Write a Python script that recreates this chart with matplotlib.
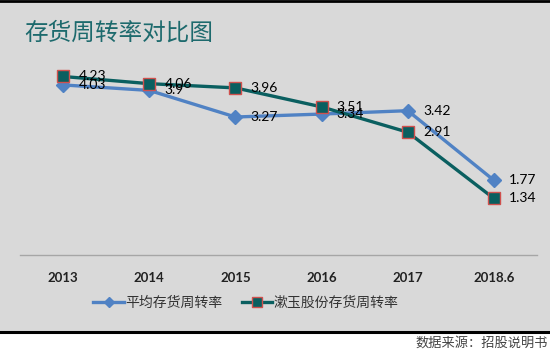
import matplotlib
matplotlib.use("Agg")
import matplotlib.pyplot as plt
from matplotlib.patches import Rectangle
from matplotlib.lines import Line2D

plt.rcParams['font.family'] = ['Noto Sans CJK SC', 'DejaVu Sans']

categories = ["2013", "2014", "2015", "2016", "2017", "2018.6"]
avg_turnover = [4.03, 3.9, 3.27, 3.34, 3.42, 1.77]
huiyu_turnover = [4.23, 4.06, 3.96, 3.51, 2.91, 1.34]
avg_labels = ["4.03", "3.9", "3.27", "3.34", "3.42", "1.77"]
huiyu_labels = ["4.23", "4.06", "3.96", "3.51", "2.91", "1.34"]
series_names = ["平均存货周转率", "漱玉股份存货周转率"]
title = "存货周转率对比图"
source = "数据来源：招股说明书"

W, H = 550, 353
fig = plt.figure(figsize=(W/100, H/100), dpi=100)
fig.patch.set_facecolor("white")

def fy(py):
    return 1 - py / H

# gray panel
fig.patches.append(Rectangle((0, fy(332)), 1, fy(0) - fy(332), transform=fig.transFigure,
                             facecolor="#d9d9d9", edgecolor="none", zorder=-5))
fig.add_artist(Line2D([0, 1], [fy(1), fy(1)], transform=fig.transFigure, color="black", lw=2, zorder=-4))
fig.add_artist(Line2D([0, 0.996], [fy(332), fy(332)], transform=fig.transFigure, color="black", lw=2.2, zorder=-4))

ax = fig.add_axes([20/W, fy(255), (537-20)/W, fy(44) - fy(255)])
ax.set_zorder(2)
ax.set_facecolor("none")
x = list(range(len(categories)))
ax.set_xlim(-0.5, len(categories) - 0.5)
ax.set_ylim(0, 5)

blue = "#5082c4"
teal = "#0a5f60"
ax.plot(x, avg_turnover, color=blue, lw=2.4, marker="D", markersize=7,
        markerfacecolor=blue, markeredgecolor=blue, zorder=3)
ax.plot(x, huiyu_turnover, color=teal, lw=2.4, marker="s", markersize=9,
        markerfacecolor=teal, markeredgecolor="#d0504d", markeredgewidth=1.0, zorder=4)

for xi, v, lab in zip(x, avg_turnover, avg_labels):
    ax.annotate(lab, (xi, v), xytext=(11, 0), textcoords="offset points", ha="left",
                va="center", fontsize=10, family=["Lato", "DejaVu Sans"], color="black", zorder=6)
for xi, v, lab in zip(x, huiyu_turnover, huiyu_labels):
    ax.annotate(lab, (xi, v), xytext=(11, 0), textcoords="offset points", ha="left",
                va="center", fontsize=10, family=["Lato", "DejaVu Sans"], color="black", zorder=6)

for s in ["top", "right", "left"]:
    ax.spines[s].set_visible(False)
ax.spines["bottom"].set_color("#a6a6a6")
ax.spines["bottom"].set_linewidth(1)
ax.set_yticks([])
ax.set_xticks(x)
ax.set_xticklabels(categories, fontsize=9.5, family=["Lato", "DejaVu Sans"], fontweight="bold",
                   color="#222222")
ax.tick_params(axis="x", length=0, pad=12)

fig.text(24/W, fy(33), title, fontsize=17, color="#1d6a6d", ha="left", va="center")

handles = [
    Line2D([], [], color=blue, lw=2.4, marker="D", markersize=5, markerfacecolor=blue, markeredgecolor=blue),
    Line2D([], [], color=teal, lw=2.4, marker="s", markersize=7, markerfacecolor=teal, markeredgecolor="#d0504d"),
]
fig.legend(handles, series_names, loc="center", bbox_to_anchor=(246/W, fy(303)), ncol=2,
           frameon=False, fontsize=10, handlelength=2.2, handletextpad=0.1, columnspacing=1.4,
           labelcolor="#333333")

fig.text(548/W, fy(343), source, fontsize=9.5, color="#444444", ha="right", va="center")

fig.savefig("out.png", dpi=100)
